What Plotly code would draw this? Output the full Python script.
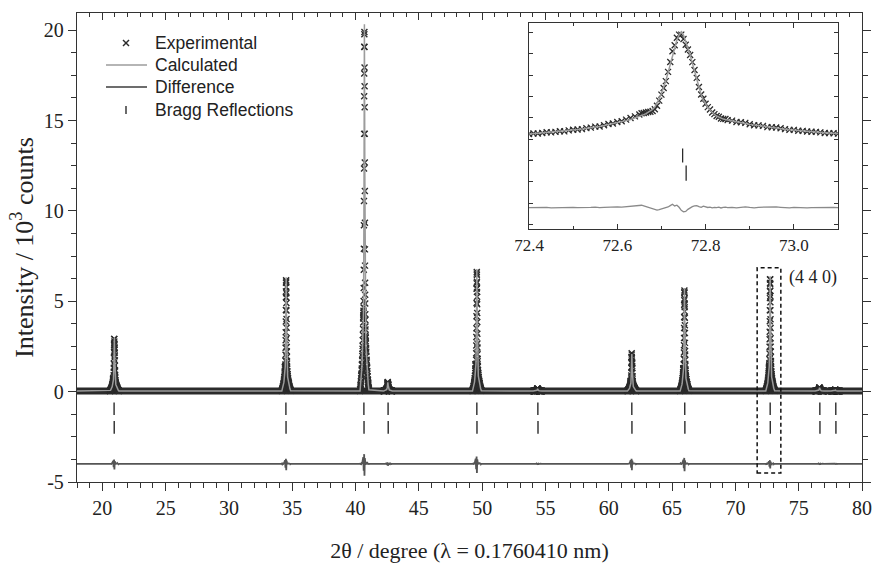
import numpy as np
import plotly.graph_objects as go

# ---------------- axes / tick labels ----------------
X_RANGE = [18, 80]
Y_RANGE = [-5, 20.95]
X_TICK_VALUES = [20, 25, 30, 35, 40, 45, 50, 55, 60, 65, 70, 75, 80]
Y_TICK_VALUES = [-5, 0, 5, 10, 15, 20]
Y_TICK_LABELS = ["-5", "0", "5", "10", "15", "20"]
INSET_X_RANGE = [72.4, 73.1]
INSET_Y_RANGE = [-5.25, 6.8]
INSET_X_TICK_VALUES = [72.4, 72.6, 72.8, 73.0]
INSET_X_TICK_LABELS = ["72.4", "72.6", "72.8", "73.0"]
LEGEND_LABELS = ["Experimental", "Calculated", "Difference", "Bragg Reflections"]

# ---------------- data (10^3 counts) ----------------
BACKGROUND = 0.03
DIFF_LEVEL = -4.0

# reflections seen in the full pattern
PEAK_2THETA = [20.95, 34.52, 40.70, 42.55, 49.58, 54.38, 61.82, 65.98, 72.745, 76.65, 77.90]
PEAK_HEIGHT = [2.95, 6.30, 20.30, 0.48, 6.75, 0.13, 2.05, 5.70, 6.35, 0.19, 0.06]
DIFF_AMPLITUDE = [0.30, 0.35, 0.65, 0.10, 0.50, 0.05, 0.35, 0.40, 0.25, 0.05, 0.03]

# Bragg reflection markers (two rows of ticks)
BRAGG_2THETA_A = [20.93, 34.50, 40.66, 42.57, 49.58, 54.40, 61.82, 66.00, 72.748, 76.67, 77.93]
BRAGG_2THETA_B = [20.94, 34.51, 40.67, 42.58, 49.59, 54.41, 61.83, 66.01, 72.756, 76.68, 77.94]
BRAGG_LEVEL = [-0.95, -1.98]

# (4 4 0) reflection, detailed scan shown in the inset
INSET_2THETA = [
    72.40, 72.41, 72.42, 72.43, 72.44, 72.45, 72.46, 72.47, 72.48, 72.49,
    72.50, 72.51, 72.52, 72.53, 72.54, 72.55, 72.56, 72.57, 72.58, 72.59,
    72.60, 72.61, 72.62, 72.63, 72.64, 72.65,
    72.655, 72.660, 72.665, 72.670, 72.675, 72.680, 72.685, 72.690, 72.695, 72.700,
    72.705, 72.710, 72.715, 72.720, 72.725, 72.730, 72.735, 72.740, 72.745, 72.750,
    72.755, 72.760, 72.765, 72.770, 72.775, 72.780, 72.785, 72.790, 72.795, 72.800,
    72.805, 72.810, 72.815, 72.820, 72.825, 72.830, 72.835, 72.840, 72.845,
    72.85, 72.86, 72.87, 72.88, 72.89, 72.90, 72.91, 72.92, 72.93, 72.94,
    72.95, 72.96, 72.97, 72.98, 72.99, 73.00, 73.01, 73.02, 73.03, 73.04,
    73.05, 73.06, 73.07, 73.08, 73.09, 73.10,
]
INSET_CALC = [
    0.31, 0.33, 0.35, 0.37, 0.39, 0.41, 0.43, 0.46, 0.48, 0.51,
    0.54, 0.57, 0.60, 0.63, 0.67, 0.71, 0.75, 0.80, 0.85, 0.90,
    0.96, 1.02, 1.09, 1.16, 1.24, 1.33,
    1.38, 1.44, 1.50, 1.57, 1.65, 1.75, 1.88, 2.10, 2.38, 2.69,
    3.05, 3.42, 3.90, 4.40, 4.95, 5.40, 5.80, 6.10, 6.28, 6.10,
    5.75, 5.35, 4.93, 4.45, 3.95, 3.47, 3.00, 2.60, 2.28, 2.04,
    1.87, 1.71, 1.57, 1.45, 1.36, 1.29, 1.23, 1.18, 1.15,
    1.12, 1.07, 1.02, 0.97, 0.92, 0.87, 0.83, 0.79, 0.75, 0.71,
    0.68, 0.65, 0.62, 0.59, 0.56, 0.53, 0.50, 0.48, 0.46, 0.44,
    0.42, 0.40, 0.38, 0.36, 0.34, 0.33,
]
INSET_DIFF = [
    0.00, 0.01, -0.01, 0.00, 0.02, -0.01, 0.00, 0.01, -0.02, 0.01,
    0.02, 0.00, -0.01, 0.02, 0.01, 0.03, 0.00, 0.02, 0.04, 0.02,
    0.05, 0.03, 0.06, 0.08, 0.10, 0.12,
    0.14, 0.10, 0.06, 0.02, -0.04, -0.10, -0.13, -0.14, -0.12, -0.08,
    -0.05, -0.02, 0.04, 0.12, 0.20, 0.10, 0.14, 0.02, -0.16, -0.24,
    -0.22, -0.10, 0.00, 0.06, 0.10, 0.12, 0.06, 0.02, 0.09, 0.04,
    0.01, 0.03, -0.01, 0.02, 0.00, 0.03, -0.02, 0.01, 0.03,
    0.00, 0.02, -0.01, 0.02, 0.04, 0.01, -0.01, 0.02, 0.03, 0.00,
    0.02, 0.04, 0.02, 0.00, -0.01, 0.02, 0.00, 0.01, -0.01, 0.00,
    0.01, 0.00, -0.01, 0.00, 0.01, 0.00,
]
assert len(INSET_2THETA) == len(INSET_CALC) == len(INSET_DIFF)

# ---------------- build full-pattern series from the read values ----------------
ix = np.array(INSET_2THETA)
ic = np.array(INSET_CALC)
idf = np.array(INSET_DIFF)
i_top = int(np.argmax(ic))
edge = ic.min()
shape_dx = ix - ix[i_top]
shape_rel = (ic - edge) / (ic[i_top] - edge)
resid_rel = idf / np.abs(idf).max()

main_x, main_calc, main_exp, main_diff = [X_RANGE[0]], [BACKGROUND], [], [DIFF_LEVEL]
exp_x = []
for pos, h, a in zip(PEAK_2THETA, PEAK_HEIGHT, DIFF_AMPLITUDE):
    xs = pos + shape_dx
    calc = BACKGROUND + h * shape_rel
    res = a * resid_rel
    main_x += list(xs)
    exp_x += list(xs)
    main_calc += list(calc)
    main_exp += list(calc + res)
    main_diff += list(DIFF_LEVEL + res)
main_x.append(X_RANGE[1])
main_calc.append(BACKGROUND)
main_diff.append(DIFF_LEVEL)

# ---------------- styles ----------------
SERIF = "Liberation Serif"
SANS = "Liberation Sans"
DARK = "#2b2b2b"
CALC_GREY = "#9c9c9c"
DIFF_GREY = "#555555"
AXIS = "#333333"

W, H = 873, 566
M_L, M_R, M_T, M_B = 77, 11, 13, 84
PW, PH = W - M_L - M_R, H - M_T - M_B


def px_x(p):
    return (p - M_L) / PW


def px_y(p):
    return (H - M_B - p) / PH


fig = go.Figure()

# experimental points: dense baseline band
fig.add_trace(go.Scatter(x=X_RANGE, y=[BACKGROUND, BACKGROUND], mode="lines",
                         line=dict(color=DARK, width=7), showlegend=False, hoverinfo="skip"))
fig.add_trace(go.Scatter(x=exp_x, y=main_exp, mode="markers", name=LEGEND_LABELS[0],
                         showlegend=False,
                         marker=dict(symbol="x-thin", size=6, color=DARK,
                                     line=dict(width=1.4, color=DARK))))
fig.add_trace(go.Scatter(x=main_x, y=main_calc, mode="lines", name=LEGEND_LABELS[1],
                         showlegend=False, line=dict(color=CALC_GREY, width=1.5)))
fig.add_trace(go.Scatter(x=main_x, y=main_diff, mode="lines", name=LEGEND_LABELS[2],
                         showlegend=False, line=dict(color=DIFF_GREY, width=1.8)))
fig.add_trace(go.Scatter(x=BRAGG_2THETA_A, y=[BRAGG_LEVEL[0]] * len(BRAGG_2THETA_A),
                         mode="markers", name=LEGEND_LABELS[3], showlegend=False,
                         marker=dict(symbol="line-ns", size=9, color=DARK,
                                     line=dict(width=1.4, color=DARK))))
fig.add_trace(go.Scatter(x=BRAGG_2THETA_B, y=[BRAGG_LEVEL[1]] * len(BRAGG_2THETA_B),
                         mode="markers", showlegend=False,
                         marker=dict(symbol="line-ns", size=9, color=DARK,
                                     line=dict(width=1.4, color=DARK))))
# helper trace for the inward ticks along the top axis
fig.add_trace(go.Scatter(x=[X_RANGE[0]], y=[0], xaxis="x3", yaxis="y", mode="markers",
                         marker=dict(opacity=0), showlegend=False, hoverinfo="skip"))

# inset
fig.add_trace(go.Scatter(x=INSET_2THETA, y=list(ic + idf), xaxis="x2", yaxis="y2",
                         mode="markers", showlegend=False,
                         marker=dict(symbol="x-thin", size=6, color=DARK,
                                     line=dict(width=1.3, color=DARK))))
fig.add_trace(go.Scatter(x=INSET_2THETA, y=INSET_CALC, xaxis="x2", yaxis="y2",
                         mode="lines", showlegend=False,
                         line=dict(color=CALC_GREY, width=1.5)))
fig.add_trace(go.Scatter(x=INSET_2THETA, y=list(DIFF_LEVEL + idf), xaxis="x2", yaxis="y2",
                         mode="lines", showlegend=False,
                         line=dict(color="#8a8a8a", width=1.3)))
fig.add_trace(go.Scatter(x=BRAGG_2THETA_A, y=[BRAGG_LEVEL[0]] * len(BRAGG_2THETA_A),
                         xaxis="x2", yaxis="y2", mode="markers", showlegend=False,
                         marker=dict(symbol="line-ns", size=10, color=DARK,
                                     line=dict(width=1.3, color=DARK))))
fig.add_trace(go.Scatter(x=BRAGG_2THETA_B, y=[BRAGG_LEVEL[1]] * len(BRAGG_2THETA_B),
                         xaxis="x2", yaxis="y2", mode="markers", showlegend=False,
                         marker=dict(symbol="line-ns", size=11, color=DARK,
                                     line=dict(width=1.3, color=DARK))))

# ---------------- legend (drawn as key symbols + labels) ----------------
LEG_ROWS = [43, 65, 87, 110]
LEG_SYM_X = 126
LEG_TEXT_X = 153
shapes = [
    dict(type="rect", xref="x", yref="y", x0=71.72, x1=73.59, y0=-4.5, y1=6.85,
         line=dict(color="#111", width=1.5, dash="4px,3px"), fillcolor="rgba(0,0,0,0)"),
    # × symbol
    dict(type="line", xref="paper", yref="paper",
         x0=px_x(LEG_SYM_X - 3), x1=px_x(LEG_SYM_X + 3),
         y0=px_y(LEG_ROWS[0] - 3), y1=px_y(LEG_ROWS[0] + 3), line=dict(color=DARK, width=1.4)),
    dict(type="line", xref="paper", yref="paper",
         x0=px_x(LEG_SYM_X - 3), x1=px_x(LEG_SYM_X + 3),
         y0=px_y(LEG_ROWS[0] + 3), y1=px_y(LEG_ROWS[0] - 3), line=dict(color=DARK, width=1.4)),
    # line symbols
    dict(type="line", xref="paper", yref="paper", x0=px_x(106), x1=px_x(147),
         y0=px_y(LEG_ROWS[1]), y1=px_y(LEG_ROWS[1]), line=dict(color=CALC_GREY, width=1.5)),
    dict(type="line", xref="paper", yref="paper", x0=px_x(106), x1=px_x(147),
         y0=px_y(LEG_ROWS[2]), y1=px_y(LEG_ROWS[2]), line=dict(color="#3c3c3c", width=1.5)),
    # bragg tick symbol
    dict(type="line", xref="paper", yref="paper", x0=px_x(LEG_SYM_X), x1=px_x(LEG_SYM_X),
         y0=px_y(LEG_ROWS[3] - 4), y1=px_y(LEG_ROWS[3] + 4), line=dict(color=DARK, width=1.4)),
]
annotations = [
    dict(text="(4 4 0)", xref="x", yref="y", x=74.1, y=6.3, xanchor="left",
         yanchor="middle", showarrow=False, font=dict(family=SERIF, size=18, color="#222")),
]
for label, row in zip(LEGEND_LABELS, LEG_ROWS):
    annotations.append(dict(text=label, xref="paper", yref="paper", x=px_x(LEG_TEXT_X),
                            y=px_y(row), xanchor="left", yanchor="middle", showarrow=False,
                            font=dict(family=SANS, size=17.5, color="#222")))

tick_font = dict(family=SERIF, size=20, color="#222")

fig.update_layout(
    width=W, height=H,
    margin=dict(l=M_L, r=M_R, t=M_T, b=M_B, autoexpand=False),
    paper_bgcolor="white", plot_bgcolor="white",
    showlegend=False,
    xaxis=dict(domain=[0, 1], range=X_RANGE, tickvals=X_TICK_VALUES, automargin=False,
               ticks="outside", ticklen=8, tickwidth=1.3, tickcolor=AXIS,
               minor=dict(dtick=1, ticks="outside", ticklen=5, tickwidth=1.1, tickcolor=AXIS),
               showline=True, linecolor=AXIS, linewidth=1.4, mirror=True,
               showgrid=False, zeroline=False, tickfont=tick_font,
               title=dict(text="2θ / degree (λ = 0.1760410 nm)",
                          font=dict(family=SERIF, size=22, color="#222"), standoff=24)),
    xaxis3=dict(overlaying="x", side="top", matches="x", range=X_RANGE, automargin=False,
                tickvals=X_TICK_VALUES, showticklabels=False,
                ticks="inside", ticklen=7, tickwidth=1.3, tickcolor=AXIS,
                minor=dict(dtick=1, ticks="inside", ticklen=4, tickwidth=1.1, tickcolor=AXIS),
                showline=False, showgrid=False, zeroline=False),
    yaxis=dict(domain=[0, 1], range=Y_RANGE, tickvals=Y_TICK_VALUES, ticktext=Y_TICK_LABELS,
               automargin=False,
               ticks="outside", ticklen=8, tickwidth=1.3, tickcolor=AXIS,
               minor=dict(dtick=1.25, tick0=0, ticks="outside", ticklen=5, tickwidth=1.1,
                          tickcolor=AXIS),
               showline=True, linecolor=AXIS, linewidth=1.4, mirror="ticks",
               showgrid=False, zeroline=False, tickfont=tick_font,
               title=dict(text="Intensity / 10<sup>3</sup> counts",
                          font=dict(family=SERIF, size=26, color="#222"), standoff=2)),
    xaxis2=dict(domain=[px_x(529), px_x(838)], anchor="y2", range=INSET_X_RANGE,
                automargin=False,
                tickvals=INSET_X_TICK_VALUES, ticktext=INSET_X_TICK_LABELS,
                ticks="inside", ticklen=5, tickwidth=1, tickcolor=AXIS,
                minor=dict(dtick=0.1, tick0=72.4, ticks="inside", ticklen=3, tickwidth=1,
                           tickcolor=AXIS),
                showline=True, linecolor=AXIS, linewidth=1.2, mirror="ticks",
                showgrid=False, zeroline=False,
                tickfont=dict(family=SERIF, size=17, color="#222")),
    yaxis2=dict(domain=[px_y(229), px_y(23)], anchor="x2", range=INSET_Y_RANGE,
                automargin=False,
                dtick=1.25, tick0=0, showticklabels=False,
                ticks="inside", ticklen=4, tickwidth=1, tickcolor=AXIS,
                showline=True, linecolor=AXIS, linewidth=1.2, mirror="ticks",
                showgrid=False, zeroline=False),
    shapes=shapes,
    annotations=annotations,
)

fig.write_html("out.html", config={"displayModeBar": False},
               post_script="document.body.style.margin='0';document.body.style.overflow='hidden';")
